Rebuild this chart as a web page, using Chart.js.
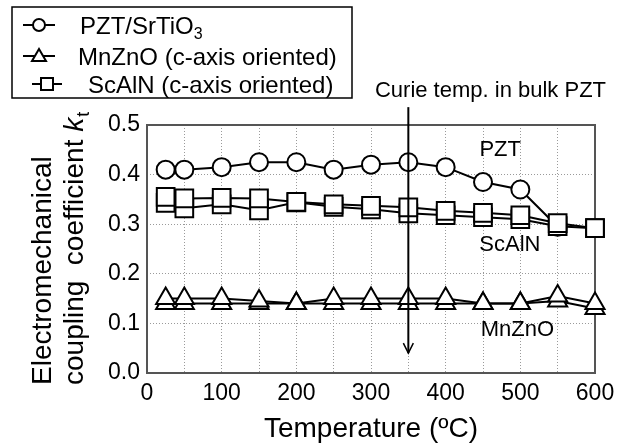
<!DOCTYPE html>
<html>
<head>
<meta charset="utf-8">
<script src="https://cdn.jsdelivr.net/npm/chart.js@4.4.1/dist/chart.umd.min.js"></script>
<style>
  body { margin: 0; background: #fff; }
  #wrap { width: 628px; height: 444px; }
</style>
</head>
<body>
<div id="wrap"><canvas id="ktChart" width="628" height="444"></canvas></div>
<script>
// Measured temperatures (ºC)
const temps = [25, 50, 100, 150, 200, 250, 300, 350, 400, 450, 500, 550, 600];

// k_t values (two runs for the thin films)
const pzt = [0.41, 0.41, 0.415, 0.425, 0.425, 0.41, 0.42, 0.425, 0.415, 0.385, 0.37, 0.295, null];
const scalnUp = [0.355, 0.352, 0.353, 0.352, 0.345, 0.34, 0.337, 0.334, 0.327, 0.323, 0.318, 0.302, 0.292];
const scalnDown = [0.343, 0.332, 0.34, 0.328, 0.344, 0.335, 0.330, 0.322, 0.318, 0.314, 0.310, 0.296, 0.292];
const mnznoUp = [0.15, 0.15, 0.15, 0.145, 0.14, 0.15, 0.15, 0.15, 0.15, 0.14, 0.14, 0.155, 0.14];
const mnznoDown = [0.14, 0.14, 0.14, 0.14, 0.14, 0.14, 0.14, 0.14, 0.14, 0.14, 0.14, 0.145, 0.13];

// Axis ticks
const xTicks = [0, 100, 200, 300, 400, 500, 600];
const yTicks = [0.0, 0.1, 0.2, 0.3, 0.4, 0.5];

// Curie temperature marker
const curieTemp = 350;
const curieLabel = 'Curie temp. in bulk PZT';

const FONT = '"Liberation Sans", Arial, sans-serif';

// Build {x, y} points from a value array
function toPoints(values) {
    return temps.map((t, i) => ({ x: t, y: values[i] }));
}

function series(label, values, style, radius) {
    return {
        label: label,
        data: toPoints(values),
        borderColor: '#000',
        borderWidth: 2,
        pointStyle: style,
        pointRadius: radius,
        pointBorderWidth: 2,
        pointBackgroundColor: '#fff',
        pointBorderColor: '#000',
        clip: false,
        tension: 0
    };
}

// Frame around the plot area
const framePlugin = {
    id: 'frame',
    beforeDatasetsDraw(chart) {
        const { ctx, chartArea: a } = chart;
        ctx.save();
        ctx.strokeStyle = '#555';
        ctx.lineWidth = 2;
        ctx.strokeRect(a.left, a.top, a.right - a.left, a.bottom - a.top);
        ctx.restore();
    }
};

// Legend, titles, labels and the Curie arrow
const decorPlugin = {
    id: 'decor',
    afterDraw(chart) {
        const ctx = chart.ctx;
        const xs = chart.scales.x;
        const ys = chart.scales.y;
        ctx.save();
        ctx.fillStyle = '#000';
        ctx.strokeStyle = '#000';

        // legend box
        ctx.lineWidth = 1.5;
        ctx.strokeRect(12, 7, 340, 91);

        const rows = [
            { y: 25, x0: 23, x1: 55, mx: 39, shape: 'circle', tx: 80, text: 'PZT/SrTiO', sub: '3' },
            { y: 56, x0: 23, x1: 55, mx: 39, shape: 'triangle', tx: 78, text: 'MnZnO (c-axis oriented)' },
            { y: 84, x0: 32, x1: 62, mx: 47, shape: 'rect', tx: 88, text: 'ScAlN (c-axis oriented)' }
        ];
        rows.forEach(r => {
            ctx.lineWidth = 2;
            ctx.beginPath();
            ctx.moveTo(r.x0, r.y);
            ctx.lineTo(r.x1, r.y);
            ctx.stroke();
            ctx.beginPath();
            if (r.shape === 'circle') {
                ctx.arc(r.mx, r.y, 6, 0, Math.PI * 2);
            } else if (r.shape === 'triangle') {
                ctx.moveTo(r.mx, r.y - 7);
                ctx.lineTo(r.mx + 7, r.y + 5);
                ctx.lineTo(r.mx - 7, r.y + 5);
                ctx.closePath();
            } else {
                ctx.rect(r.mx - 6, r.y - 6, 12, 12);
            }
            ctx.fillStyle = '#fff';
            ctx.fill();
            ctx.stroke();
            ctx.fillStyle = '#000';
            ctx.font = '24px ' + FONT;
            ctx.textAlign = 'left';
            ctx.textBaseline = 'alphabetic';
            ctx.fillText(r.text, r.tx, r.y + 8.5);
            if (r.sub) {
                const w = ctx.measureText(r.text).width;
                ctx.font = '16px ' + FONT;
                ctx.fillText(r.sub, r.tx + w, r.y + 14);
            }
        });

        // x axis title
        ctx.font = '28px ' + FONT;
        ctx.textAlign = 'center';
        ctx.fillText('Temperature (ºC)', (chart.chartArea.left + chart.chartArea.right) / 2, 437);

        // y axis title, two lines rotated
        ctx.save();
        ctx.translate(0, 385);
        ctx.rotate(-Math.PI / 2);
        ctx.textAlign = 'left';
        ctx.font = '28px ' + FONT;
        ctx.fillText('Electromechanical', 0, 51);
        const line2 = 'coupling  coefficient ';
        ctx.fillText(line2, 0, 83);
        let w2 = ctx.measureText(line2).width;
        ctx.font = 'italic 28px ' + FONT;
        ctx.fillText('k', w2, 83);
        w2 += ctx.measureText('k').width;
        ctx.font = '18px ' + FONT;
        ctx.fillText('t', w2 + 1, 89);
        ctx.restore();

        // series labels
        ctx.font = '22px ' + FONT;
        ctx.textAlign = 'center';
        ctx.textBaseline = 'middle';
        ctx.fillText('PZT', xs.getPixelForValue(473), ys.getPixelForValue(0.45));
        ctx.fillText('ScAlN', xs.getPixelForValue(486), ys.getPixelForValue(0.258));
        ctx.fillText('MnZnO', xs.getPixelForValue(496), ys.getPixelForValue(0.087));

        // Curie temperature arrow
        const cx = xs.getPixelForValue(curieTemp);
        const top = ys.getPixelForValue(0.536);
        const tip = ys.getPixelForValue(0.04);
        ctx.lineWidth = 2;
        ctx.beginPath();
        ctx.moveTo(cx, top);
        ctx.lineTo(cx, tip);
        ctx.stroke();
        ctx.lineWidth = 1.5;
        ctx.beginPath();
        ctx.moveTo(cx - 5, tip - 10);
        ctx.lineTo(cx, tip);
        ctx.lineTo(cx + 5, tip - 10);
        ctx.stroke();
        ctx.textBaseline = 'alphabetic';
        ctx.fillText(curieLabel, xs.getPixelForValue(460), 97);

        ctx.restore();
    }
};

const ctx = document.getElementById('ktChart').getContext('2d');

new Chart(ctx, {
    type: 'line',
    data: {
        datasets: [
            series('ScAlN (c-axis oriented)', scalnUp, 'rect', 12.5),
            series('ScAlN (c-axis oriented) 2', scalnDown, 'rect', 12.5),
            series('PZT/SrTiO3', pzt, 'circle', 9),
            series('MnZnO (c-axis oriented)', mnznoUp, 'triangle', 11),
            series('MnZnO (c-axis oriented) 2', mnznoDown, 'triangle', 11)
        ]
    },
    options: {
        responsive: false,
        animation: false,
        devicePixelRatio: 1,
        layout: { padding: { left: 0, right: 33, top: 125, bottom: 0 } },
        plugins: {
            legend: { display: false },
            tooltip: { enabled: false }
        },
        scales: {
            x: {
                type: 'linear',
                min: 0,
                max: 600,
                afterFit(scale) { scale.height = 71; },
                afterBuildTicks(scale) {
                    const t = [];
                    for (let v = 0; v <= 600; v += 50) t.push({ value: v });
                    scale.ticks = t;
                },
                ticks: {
                    autoSkip: false,
                    maxRotation: 0,
                    padding: 7,
                    color: '#000',
                    font: { family: FONT, size: 23 },
                    callback: v => xTicks.includes(v) ? String(v) : ''
                },
                grid: { color: '#9a9a9a', lineWidth: 1, drawTicks: false },
                border: { display: false, dash: [1, 2] }
            },
            y: {
                min: 0,
                max: 0.5,
                afterFit(scale) { scale.width = 147; },
                afterBuildTicks(scale) {
                    scale.ticks = yTicks.map(v => ({ value: v }));
                },
                ticks: {
                    padding: 7,
                    color: '#000',
                    font: { family: FONT, size: 23 },
                    callback: v => Number(v).toFixed(1)
                },
                grid: { color: '#9a9a9a', lineWidth: 1, drawTicks: false },
                border: { display: false, dash: [1, 2] }
            }
        }
    },
    plugins: [framePlugin, decorPlugin]
});
</script>
</body>
</html>
